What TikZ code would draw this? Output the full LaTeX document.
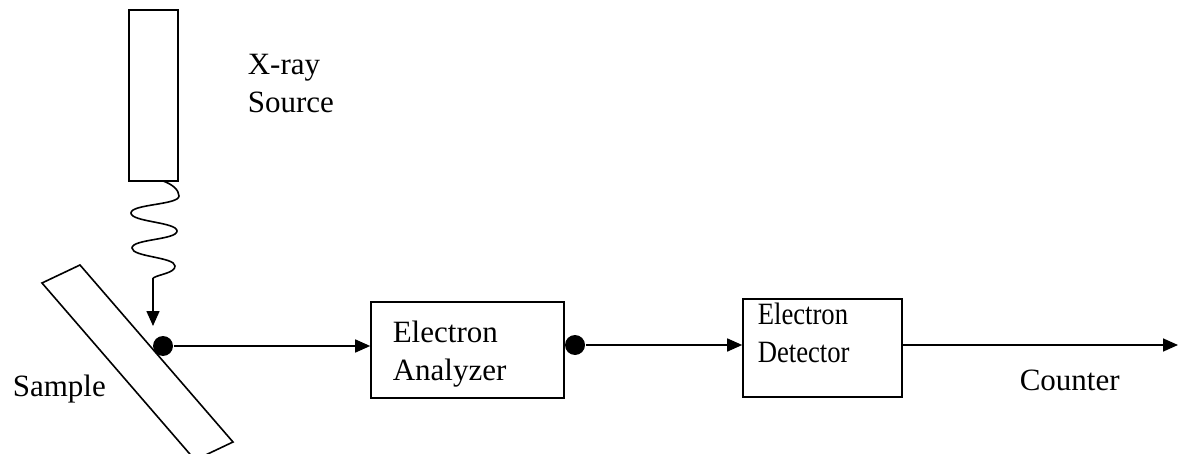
\documentclass[tikz,border=0pt]{standalone}
\usepackage{fontspec}
\setmainfont{Liberation Serif}
\usetikzlibrary{arrows.meta}
\begin{document}
\begin{tikzpicture}[x=1pt,y=-1pt,
  line width=1.6pt,
  arr/.style={-{Triangle[length=15pt,width=13pt]}},
  lbl/.style={font=\fontsize{31}{38}\selectfont, inner sep=0pt, anchor=base west, align=left},
  boxnode/.style={draw, rectangle, inner sep=0pt},
  dotnode/.style={circle, fill=black, draw=none, minimum size=20pt, inner sep=0pt}]
\useasboundingbox (0,0) rectangle (1180,454);

% X-ray tube
\node[boxnode, minimum width=49pt, minimum height=171pt] (src) at (153.5,95.5) {};
\node[lbl] (srclbl) at (247,113) {X-ray\\Source};

% sample plate
\draw (42,283) -- (80,265) -- (233,442) -- (195,460) -- cycle;
\node[lbl] (smplbl) at (12,396) {Sample};

% photon wave from the tube down to the sample
\coordinate (w0) at (163,181);
\coordinate (w6) at (153,278);
\coordinate (hit) at (153,326);
\draw (w0) .. controls (172,184) and (179,190) .. (179,196)
      .. controls (179,205) and (131,204) .. (131,213)
      .. controls (131,222) and (177,222) .. (177,231)
      .. controls (177,240) and (132,239) .. (132,248)
      .. controls (132,257) and (175,257) .. (175,266)
      .. controls (175,273) and (160,274) .. (w6);
\draw[arr] (w6) -- (hit);

% emission point
\node[dotnode] (d1) at (163,346) {};

% analyzer
\node[boxnode, minimum width=193pt, minimum height=96pt] (ana) at (467.5,350) {};
\node[lbl] (analbl) at (392,380) {Electron\\Analyzer};
\draw[arr] (d1.east) -- (d1.east -| ana.west);

\node[dotnode] (d2) at (575,345) {};

% detector
\node[boxnode, minimum width=159pt, minimum height=98pt] (det) at (822.5,348) {};
\node[lbl] (detlbl) at (757,362) {\scalebox{0.86}[1]{Electron}\\\scalebox{0.86}[1]{Detector}};
\draw[arr] (d2.east) -- (d2.east -| det.west);

% output to counter
\coordinate (out) at (1178,345);
\draw[arr] (det.east |- out) -- (out);
\node[lbl] (cntlbl) at (1019,390) {Counter};
\end{tikzpicture}
\end{document}
